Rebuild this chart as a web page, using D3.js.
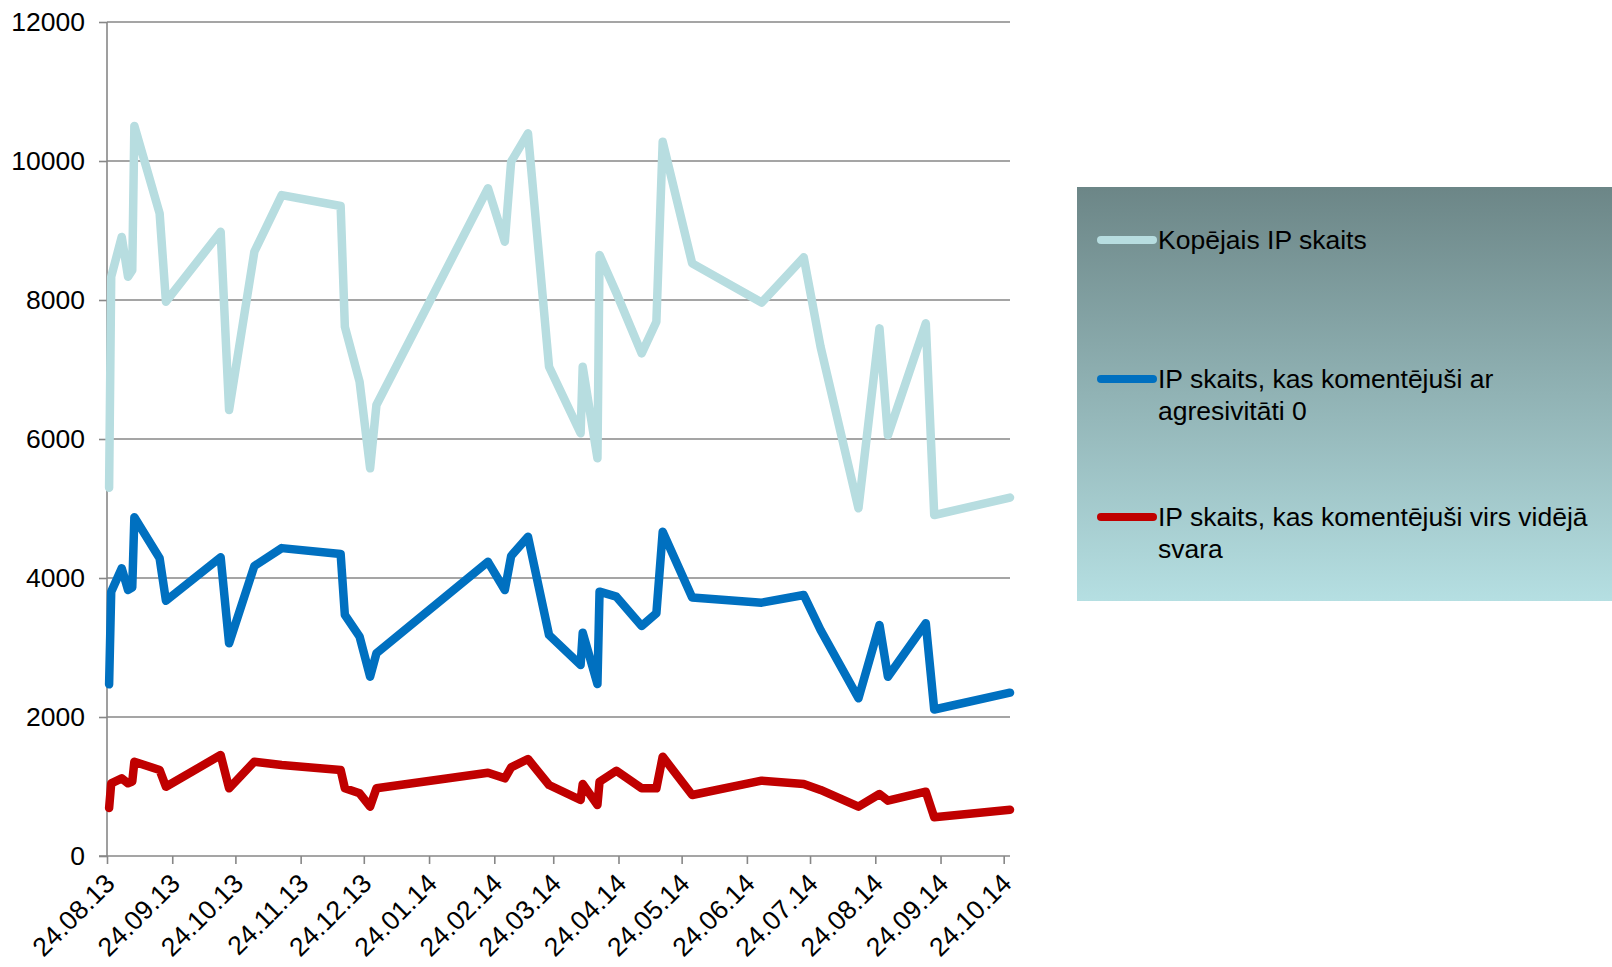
<!DOCTYPE html>
<html>
<head>
<meta charset="utf-8">
<script src="https://cdn.jsdelivr.net/npm/d3@7"></script>
<style>
  body { margin: 0; background: #fff; }
  text { font-family: "Liberation Sans", Arial, sans-serif; fill: #000; }
</style>
</head>
<body>
<div id="plot"></div>
<script>
// dates of the points (dd.mm.yy)
var dates = ["25.08.13", "26.08.13", "31.08.13", "03.09.13", "05.09.13", "06.09.13", "18.09.13", "21.09.13",
  "17.10.13", "21.10.13", "02.11.13", "15.11.13", "13.12.13", "15.12.13", "22.12.13", "27.12.13", "30.12.13",
  "21.02.14", "01.03.14", "04.03.14", "12.03.14", "22.03.14", "06.04.14", "07.04.14", "14.04.14", "15.04.14",
  "23.04.14", "05.05.14", "12.05.14", "15.05.14", "29.05.14", "01.07.14", "21.07.14", "29.07.14", "16.08.14",
  "26.08.14", "30.08.14", "17.09.14", "21.09.14", "27.10.14"]

var totalIP = [5300, 8335, 8908, 8335, 8430, 10503, 9247, 7975,
  8982, 6417, 8694, 9510, 9352, 7615, 6824, 5578, 6489,
  9607, 8838, 9990, 10398, 7040, 6082, 7040, 5722, 8647,
  8100, 7232, 7688, 10278, 8527, 7963, 8614, 7328, 5003,
  7592, 6053, 7664, 4906, 5158]

var zeroIP = [2470, 3803, 4139, 3827, 3866, 4873, 4283, 3673,
  4298, 3060, 4173, 4430, 4345, 3468, 3156, 2580, 2916,
  4233, 3827, 4317, 4594, 3180, 2748, 3213, 2475, 3803,
  3731, 3309, 3492, 4666, 3720, 3645, 3755, 3252, 2269,
  3324, 2580, 3348, 2108, 2350]

var aboveIP = [690, 1046, 1118, 1046, 1070, 1357, 1237, 997,
  1453, 974, 1357, 1309, 1237, 974, 902, 709, 974,
  1199, 1118, 1276, 1395, 1022, 806, 1036, 734, 1069,
  1227, 974, 974, 1429, 878, 1084, 1036, 950, 709,
  892, 796, 925, 557, 665]

var seriesNames = ["Kopējais IP skaits",
  "IP skaits, kas komentējuši ar agresivitāti 0",
  "IP skaits, kas komentējuši virs vidējā svara"]
var seriesColors = ["#b7dde0", "#0070c0", "#c00000"]

var xTicks = ["24.08.13", "24.09.13", "24.10.13", "24.11.13", "24.12.13", "24.01.14", "24.02.14", "24.03.14",
  "24.04.14", "24.05.14", "24.06.14", "24.07.14", "24.08.14", "24.09.14", "24.10.14"]
var yTicks = [0, 2000, 4000, 6000, 8000, 10000, 12000]

var svgWidth = 1612
var svgHeight = 967
var margin = { top: 22, right: 602, bottom: 111, left: 107 }
var width = svgWidth - margin.left - margin.right
var height = svgHeight - margin.top - margin.bottom

var parse = d3.timeParse("%d.%m.%y")

var svg = d3.select("#plot")
  .append("svg")
  .attr("width", svgWidth)
  .attr("height", svgHeight)

var chartGroup = svg.append("g")
  .attr("transform", `translate(${margin.left}, ${margin.top})`)

var xScale = d3.scaleTime()
  .domain([parse("24.08.13"), parse("27.10.14")])
  .range([0, width])

var yScale = d3.scaleLinear()
  .domain([0, 12000])
  .range([height, 0])

// gridlines
chartGroup.selectAll(".grid")
  .data(yTicks.slice(1))
  .enter()
  .append("line")
  .attr("x1", 0)
  .attr("x2", width)
  .attr("y1", d => yScale(d))
  .attr("y2", d => yScale(d))
  .attr("stroke", "#878787")
  .attr("stroke-width", 1.6)

// y axis
var leftAxis = d3.axisLeft(yScale).tickValues(yTicks).tickSize(8).tickPadding(14).tickFormat(d3.format("d"))
var yAxisG = chartGroup.append("g").call(leftAxis)
yAxisG.select(".domain").remove()
yAxisG.append("line").attr("x1", 0).attr("x2", 0).attr("y1", 0).attr("y2", height)
  .attr("stroke", "#878787").attr("stroke-width", 1.6)
yAxisG.selectAll(".tick line").attr("stroke", "#878787").attr("stroke-width", 1.6)
yAxisG.selectAll("text").style("font-size", "26.5px").style("font-family", "Liberation Sans, Arial, sans-serif").attr("fill", "#000")

// x axis
var bottomAxis = d3.axisBottom(xScale).tickValues(xTicks.map(parse)).tickSize(8).tickFormat(d3.timeFormat("%d.%m.%y"))
var xAxisG = chartGroup.append("g")
  .attr("transform", `translate(0, ${height})`)
  .call(bottomAxis)
xAxisG.select(".domain").remove()
xAxisG.append("line").attr("x1", -8).attr("x2", width).attr("y1", 0).attr("y2", 0)
  .attr("stroke", "#878787").attr("stroke-width", 1.6)
xAxisG.selectAll(".tick line").attr("stroke", "#878787").attr("stroke-width", 1.6)
xAxisG.selectAll("text")
  .style("font-size", "26.5px")
  .style("font-family", "Liberation Sans, Arial, sans-serif")
  .attr("fill", "#000")
  .attr("text-anchor", "end")
  .attr("dy", null)
  .attr("y", 0)
  .attr("transform", "translate(9, 29) rotate(-45)")

// lines
var allSeries = [totalIP, zeroIP, aboveIP]
var line = d3.line()
  .x((d, i) => xScale(parse(dates[i])))
  .y(d => yScale(d))

chartGroup.selectAll(".series")
  .data(allSeries)
  .enter()
  .append("path")
  .attr("d", d => line(d))
  .attr("fill", "none")
  .attr("stroke", (d, i) => seriesColors[i])
  .attr("stroke-width", 8.5)
  .attr("stroke-linejoin", "round")
  .attr("stroke-linecap", "round")

// legend
var defs = svg.append("defs")
var grad = defs.append("linearGradient").attr("id", "legGrad")
  .attr("x1", 0).attr("y1", 0).attr("x2", 0).attr("y2", 1)
grad.append("stop").attr("offset", "0%").attr("stop-color", "#6c8687")
grad.append("stop").attr("offset", "100%").attr("stop-color", "#b5dfe2")

var legend = svg.append("g")
legend.append("rect")
  .attr("x", 1077).attr("y", 187)
  .attr("width", svgWidth - 1077).attr("height", 414)
  .attr("fill", "url(#legGrad)")

var legendY = [240, 379, 517]
seriesNames.forEach((name, i) => {
  legend.append("line")
    .attr("x1", 1101).attr("x2", 1153)
    .attr("y1", legendY[i]).attr("y2", legendY[i])
    .attr("stroke", seriesColors[i])
    .attr("stroke-width", 8)
    .attr("stroke-linecap", "round")
  var t = legend.append("text")
    .attr("x", 1158)
    .attr("y", legendY[i])
    .attr("dy", "0.35em")
    .style("font-size", "26.5px")
  // wrap the name
  var words = name.split(" ")
  var tspan = t.append("tspan").attr("x", 1158)
  var cur = []
  words.forEach(w => {
    cur.push(w)
    tspan.text(cur.join(" "))
    if (tspan.node().getComputedTextLength() > 445 && cur.length > 1) {
      cur.pop()
      tspan.text(cur.join(" "))
      cur = [w]
      tspan = t.append("tspan").attr("x", 1158).attr("dy", "1.2em").text(w)
    }
  })
})
</script>
</body>
</html>
